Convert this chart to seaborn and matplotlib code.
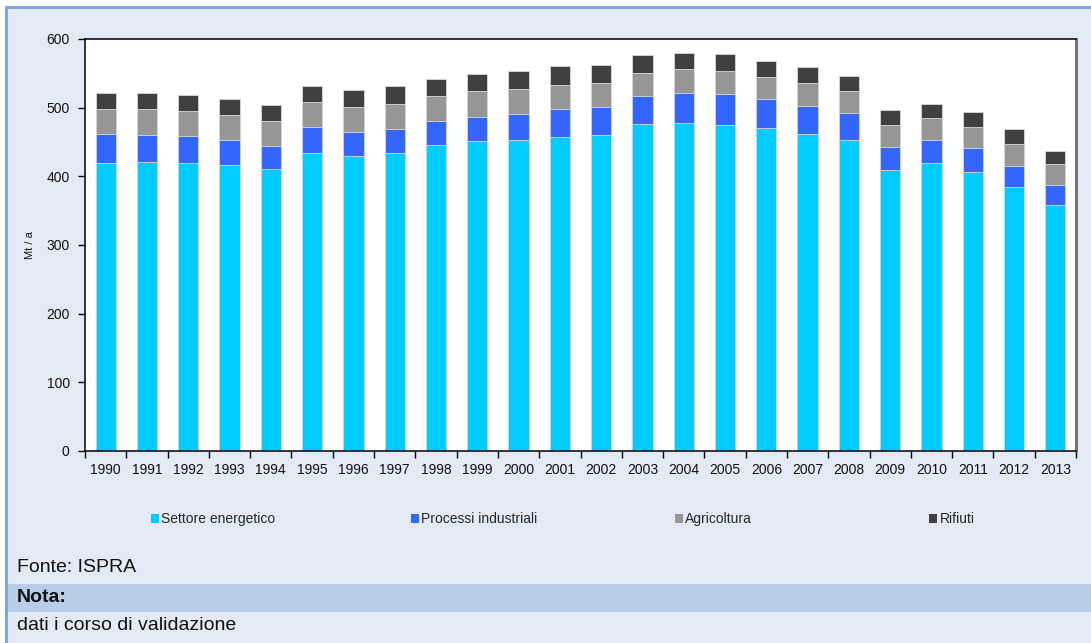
import seaborn as sns
import matplotlib.pyplot as plt
import numpy as np
from matplotlib.patches import Patch, Rectangle
from matplotlib.lines import Line2D


###############################################################################
### DATA (Mt / a)
###############################################################################
years = ['1990', '1991', '1992', '1993', '1994', '1995', '1996', '1997', '1998',
         '1999', '2000', '2001', '2002', '2003', '2004', '2005', '2006', '2007',
         '2008', '2009', '2010', '2011', '2012', '2013']

settore_energetico = [420, 421, 420, 416.5, 410, 434, 430, 434, 445, 451, 453, 458,
                      460, 475.5, 477, 474.5, 470, 461, 453, 409, 419, 407, 384, 358]
processi_industriali = [41, 39, 39, 36.5, 34.5, 38, 34.5, 35.5, 36, 36, 38, 39.5,
                        40.5, 41.5, 45, 46, 42, 41, 39, 34, 34.5, 34, 31.5, 29]
agricoltura = [36.5, 37.5, 36.5, 36, 36.5, 36.5, 36.5, 36.5, 36, 37, 36, 35,
               35, 34, 34, 32.5, 32.5, 34, 32, 31.5, 31, 31.5, 32, 31]
rifiuti = [23.5, 24.5, 23.5, 23, 23, 23, 24.5, 25, 25, 25.5, 26, 28,
           26, 25.5, 24, 24.5, 24, 23, 22.5, 22, 21.5, 21, 21, 18.5]

series_names = ['Settore energetico', 'Processi industriali', 'Agricoltura', 'Rifiuti']
series_colors = ['#00CCFF', '#3366FF', '#969696', '#404040']

fonte = 'Fonte: ISPRA'
nota_title = 'Nota:'
nota_text = 'dati i corso di validazione'


###############################################################################
### PLOT
###############################################################################
sns.set_theme(style='white')
plt.rcParams['font.family'] = ['Liberation Sans', 'DejaVu Sans']

W, H = 1091, 643
fig = plt.figure(figsize=(W / 100, H / 100), dpi=100, facecolor='white')

# panel background + borders
fig.add_artist(Rectangle((6 / W, 0), 1, 1 - 7 / H, transform=fig.transFigure,
                         facecolor='#E3EAF5', edgecolor='none', zorder=-10))
fig.add_artist(Rectangle((6 / W, 1 - 612 / H), 1, 28 / H, transform=fig.transFigure,
                         facecolor='#B8CDE8', edgecolor='none', zorder=-9))
fig.add_artist(Line2D([6 / W, 1], [1 - 7 / H, 1 - 7 / H], transform=fig.transFigure,
                      color='#7FA6D9', lw=2.2))
fig.add_artist(Line2D([6 / W, 6 / W], [0, 1 - 7 / H], transform=fig.transFigure,
                      color='#7FA6D9', lw=2.2))

ax = fig.add_axes([85 / W, 1 - 451 / H, (1076 - 85) / W, (451 - 39) / H])
ax.set_facecolor('white')

# stacked bars: draw the cumulative totals from top layer down
layers = [settore_energetico, processi_industriali, agricoltura, rifiuti]
cumulative = np.cumsum(np.array(layers), axis=0)
for i in range(len(layers) - 1, -1, -1):
    sns.barplot(x=years, y=cumulative[i], color=series_colors[i], width=0.49,
                saturation=1, edgecolor='#D9D9D9', linewidth=0.6, ax=ax)

ax.set_ylim(0, 600)
ax.set_xlim(-0.5, len(years) - 0.5)
ax.set_yticks(range(0, 601, 100))
ax.set_xlabel('')
ax.set_ylabel('')

# ticks: y outward, x ticks at category boundaries
ax.tick_params(axis='y', which='major', direction='out', length=5, width=1,
               color='black', left=True, labelsize=10, pad=6)
ax.tick_params(axis='x', which='major', length=0, labelsize=10, pad=9)
ax.set_xticks(np.arange(-0.5, len(years), 1), minor=True)
ax.tick_params(axis='x', which='minor', direction='out', length=5, width=1,
               color='black', bottom=True)
for lab in ax.get_xticklabels() + ax.get_yticklabels():
    lab.set_color('#111111')

for side in ['left', 'bottom', 'top']:
    ax.spines[side].set_color('black')
    ax.spines[side].set_linewidth(1.1)
ax.spines['right'].set_color('#6E6E6E')
ax.spines['right'].set_linewidth(2)

fig.text(30 / W, 1 - 245 / H, 'Mt / a', rotation=90, ha='center', va='center',
         fontsize=8, color='#111111')

# legend: one entry per Excel-style slot
legend_x = [151, 411, 675, 929]
for name, color, xp in zip(series_names, series_colors, legend_x):
    fig.legend(handles=[Patch(facecolor=color, edgecolor='none', label=name)],
               loc='center left', bbox_to_anchor=(xp / W, 1 - 519 / H),
               frameon=False, fontsize=10, handlelength=0.6, handleheight=0.6,
               handletextpad=0.15, borderpad=0, borderaxespad=0)

fig.text(17 / W, 1 - 567 / H, fonte, ha='left', va='center', fontsize=14,
         family=['Liberation Sans Narrow', 'Liberation Sans'], color='#111111')
fig.text(17 / W, 1 - 597 / H, nota_title, ha='left', va='center', fontsize=14,
         fontweight='bold', family=['Liberation Sans Narrow', 'Liberation Sans'],
         color='#111111')
fig.text(17 / W, 1 - 625 / H, nota_text, ha='left', va='center', fontsize=14,
         family=['Liberation Sans Narrow', 'Liberation Sans'], color='#111111')

fig.savefig('out.png', dpi=100, facecolor=fig.get_facecolor())
